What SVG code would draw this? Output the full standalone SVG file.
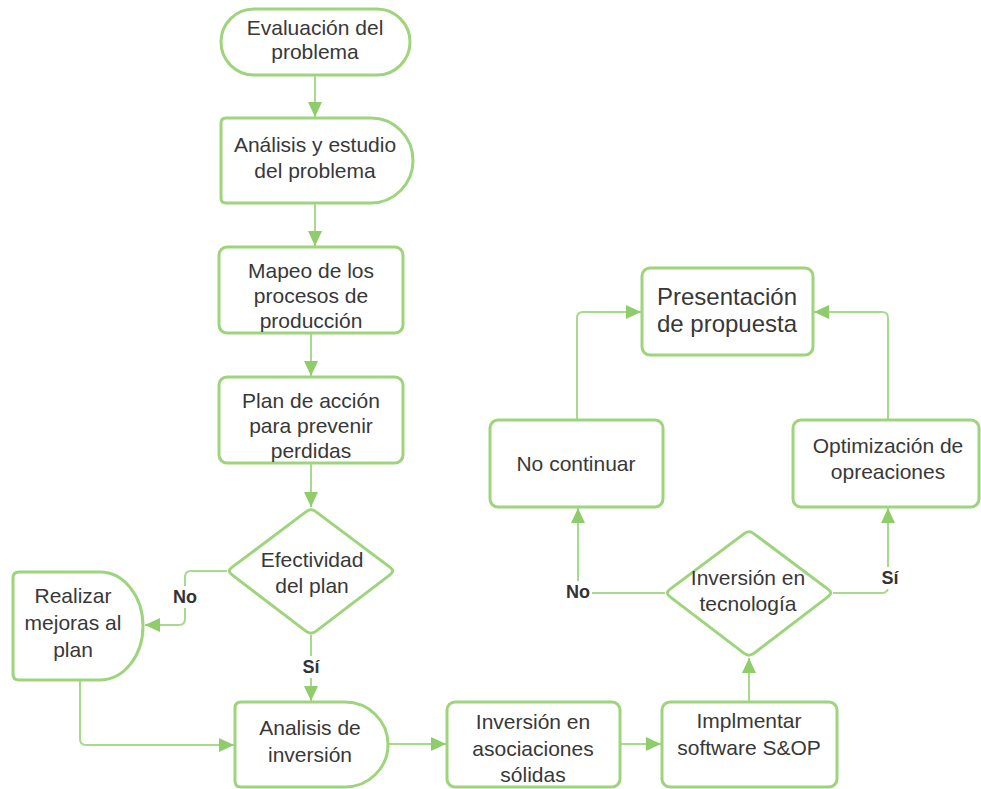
<svg xmlns="http://www.w3.org/2000/svg" width="981" height="789" viewBox="0 0 981 789">
  <defs>
    <style>
      .node { fill: #ffffff; stroke: #9dd47c; stroke-width: 3; stroke-linejoin: round; }
      .edge { fill: none; stroke: #a8da8c; stroke-width: 2; }
      .txt { font-family: "Liberation Sans", Arial, sans-serif; font-size: 21px; fill: #383838; text-anchor: middle; }
      .big { font-size: 24px; }
      .lbl { font-family: "Liberation Sans", Arial, sans-serif; font-size: 18px; font-weight: bold; fill: #333333; text-anchor: middle; }
      .lblbg { fill: #ffffff; }
    </style>
    <marker id="arrow" markerUnits="userSpaceOnUse" markerWidth="16" markerHeight="16" refX="15" refY="7" orient="auto">
      <path d="M0,0 L15,7 L0,14 Z" fill="#8fcc6a"/>
    </marker>
  </defs>

  <!-- connectors -->
  <g id="connectors">
    <path class="edge" d="M315,75 V117" marker-end="url(#arrow)"/>
    <path class="edge" d="M315,203 V246" marker-end="url(#arrow)"/>
    <path class="edge" d="M311,333 V376" marker-end="url(#arrow)"/>
    <path class="edge" d="M311,463 V507" marker-end="url(#arrow)"/>
    <path class="edge" d="M227,571 H191 Q185,571 185,577 V619 Q185,625 179,625 H145" marker-end="url(#arrow)"/>
    <path class="edge" d="M311,635 V701" marker-end="url(#arrow)"/>
    <path class="edge" d="M80,680 V739 Q80,745 86,745 H234" marker-end="url(#arrow)"/>
    <path class="edge" d="M388,744 H446" marker-end="url(#arrow)"/>
    <path class="edge" d="M620,744 H661" marker-end="url(#arrow)"/>
    <path class="edge" d="M749,702 V658" marker-end="url(#arrow)"/>
    <path class="edge" d="M665,593 H583 Q578,593 578,588 V508" marker-end="url(#arrow)"/>
    <path class="edge" d="M833,593 H882 Q888,593 888,587 V508" marker-end="url(#arrow)"/>
    <path class="edge" d="M577,420 V318 Q577,312 583,312 H641" marker-end="url(#arrow)"/>
    <path class="edge" d="M888,420 V318 Q888,312 882,312 H814" marker-end="url(#arrow)"/>
  </g>

  <!-- branch labels -->
  <g id="labels">
    <rect class="lblbg" x="171" y="586" width="28" height="22"/>
    <text class="lbl" x="185" y="603">No</text>
    <rect class="lblbg" x="299" y="656" width="24" height="22"/>
    <text class="lbl" x="311" y="673">Sí</text>
    <rect class="lblbg" x="564" y="581" width="28" height="22"/>
    <text class="lbl" x="578" y="598">No</text>
    <rect class="lblbg" x="878" y="567" width="24" height="22"/>
    <text class="lbl" x="890" y="584">Sí</text>
  </g>

  <g id="evaluacion">
    <rect class="node" x="221" y="9" width="189" height="66" rx="33"/>
    <text class="txt" x="315" y="35">Evaluación del</text>
    <text class="txt" x="315" y="59">problema</text>
  </g>

  <g id="analisis-estudio">
    <path class="node" d="M226,118 H371 A42,42.5 0 0 1 371,203 H226 Q221,203 221,198 V123 Q221,118 226,118 Z"/>
    <text class="txt" x="315" y="152">Análisis y estudio</text>
    <text class="txt" x="315" y="178">del problema</text>
  </g>

  <g id="mapeo">
    <rect class="node" x="219" y="247" width="184" height="86" rx="8"/>
    <text class="txt" x="311" y="278">Mapeo de los</text>
    <text class="txt" x="311" y="303">procesos de</text>
    <text class="txt" x="311" y="328">producción</text>
  </g>

  <g id="plan-accion">
    <rect class="node" x="219" y="377" width="184" height="86" rx="8"/>
    <text class="txt" x="311" y="408">Plan de acción</text>
    <text class="txt" x="311" y="433">para prevenir</text>
    <text class="txt" x="311" y="458">perdidas</text>
  </g>

  <g id="efectividad">
    <path class="node" d="M306.2,511.6 Q311,508 315.8,511.6 L390.2,567.4 Q395,571 390.2,574.6 L315.8,631.4 Q311,635 306.2,631.4 L231.8,574.6 Q227,571 231.8,567.4 Z"/>
    <text class="txt" x="312" y="567">Efectividad</text>
    <text class="txt" x="312" y="593">del plan</text>
  </g>

  <g id="realizar-mejoras">
    <path class="node" d="M19,572 H100 A43,54 0 0 1 100,680 H19 Q13,680 13,674 V578 Q13,572 19,572 Z"/>
    <text class="txt" x="73" y="603">Realizar</text>
    <text class="txt" x="73" y="630">mejoras al</text>
    <text class="txt" x="73" y="657">plan</text>
  </g>

  <g id="analisis-inversion">
    <path class="node" d="M241,702 H345 A43,42.5 0 0 1 345,787 H241 Q235,787 235,781 V708 Q235,702 241,702 Z"/>
    <text class="txt" x="310" y="735">Analisis de</text>
    <text class="txt" x="310" y="762">inversión</text>
  </g>

  <g id="asociaciones">
    <rect class="node" x="447" y="702" width="173" height="85" rx="8"/>
    <text class="txt" x="533" y="729">Inversión en</text>
    <text class="txt" x="533" y="756">asociaciones</text>
    <text class="txt" x="533" y="782">sólidas</text>
  </g>

  <g id="software">
    <rect class="node" x="662" y="702" width="175" height="85" rx="8"/>
    <text class="txt" x="749" y="728">Implmentar</text>
    <text class="txt" x="749" y="755">software S&amp;OP</text>
  </g>

  <g id="tecnologia">
    <path class="node" d="M744.2,533.6 Q749,530 753.8,533.6 L828.2,589.4 Q833,593 828.2,596.6 L753.8,653.4 Q749,657 744.2,653.4 L669.8,596.6 Q665,593 669.8,589.4 Z"/>
    <text class="txt" x="748" y="585">Inversión en</text>
    <text class="txt" x="748" y="611">tecnología</text>
  </g>

  <g id="no-continuar">
    <rect class="node" x="490" y="420" width="173" height="87" rx="8"/>
    <text class="txt" x="576" y="471">No continuar</text>
  </g>

  <g id="optimizacion">
    <rect class="node" x="793" y="420" width="186" height="87" rx="8"/>
    <text class="txt" x="888" y="453">Optimización de</text>
    <text class="txt" x="888" y="479">opreaciones</text>
  </g>

  <g id="presentacion">
    <rect class="node" x="642" y="268" width="171" height="87" rx="8"/>
    <text class="txt big" x="727" y="305">Presentación</text>
    <text class="txt big" x="727" y="332">de propuesta</text>
  </g>
</svg>
